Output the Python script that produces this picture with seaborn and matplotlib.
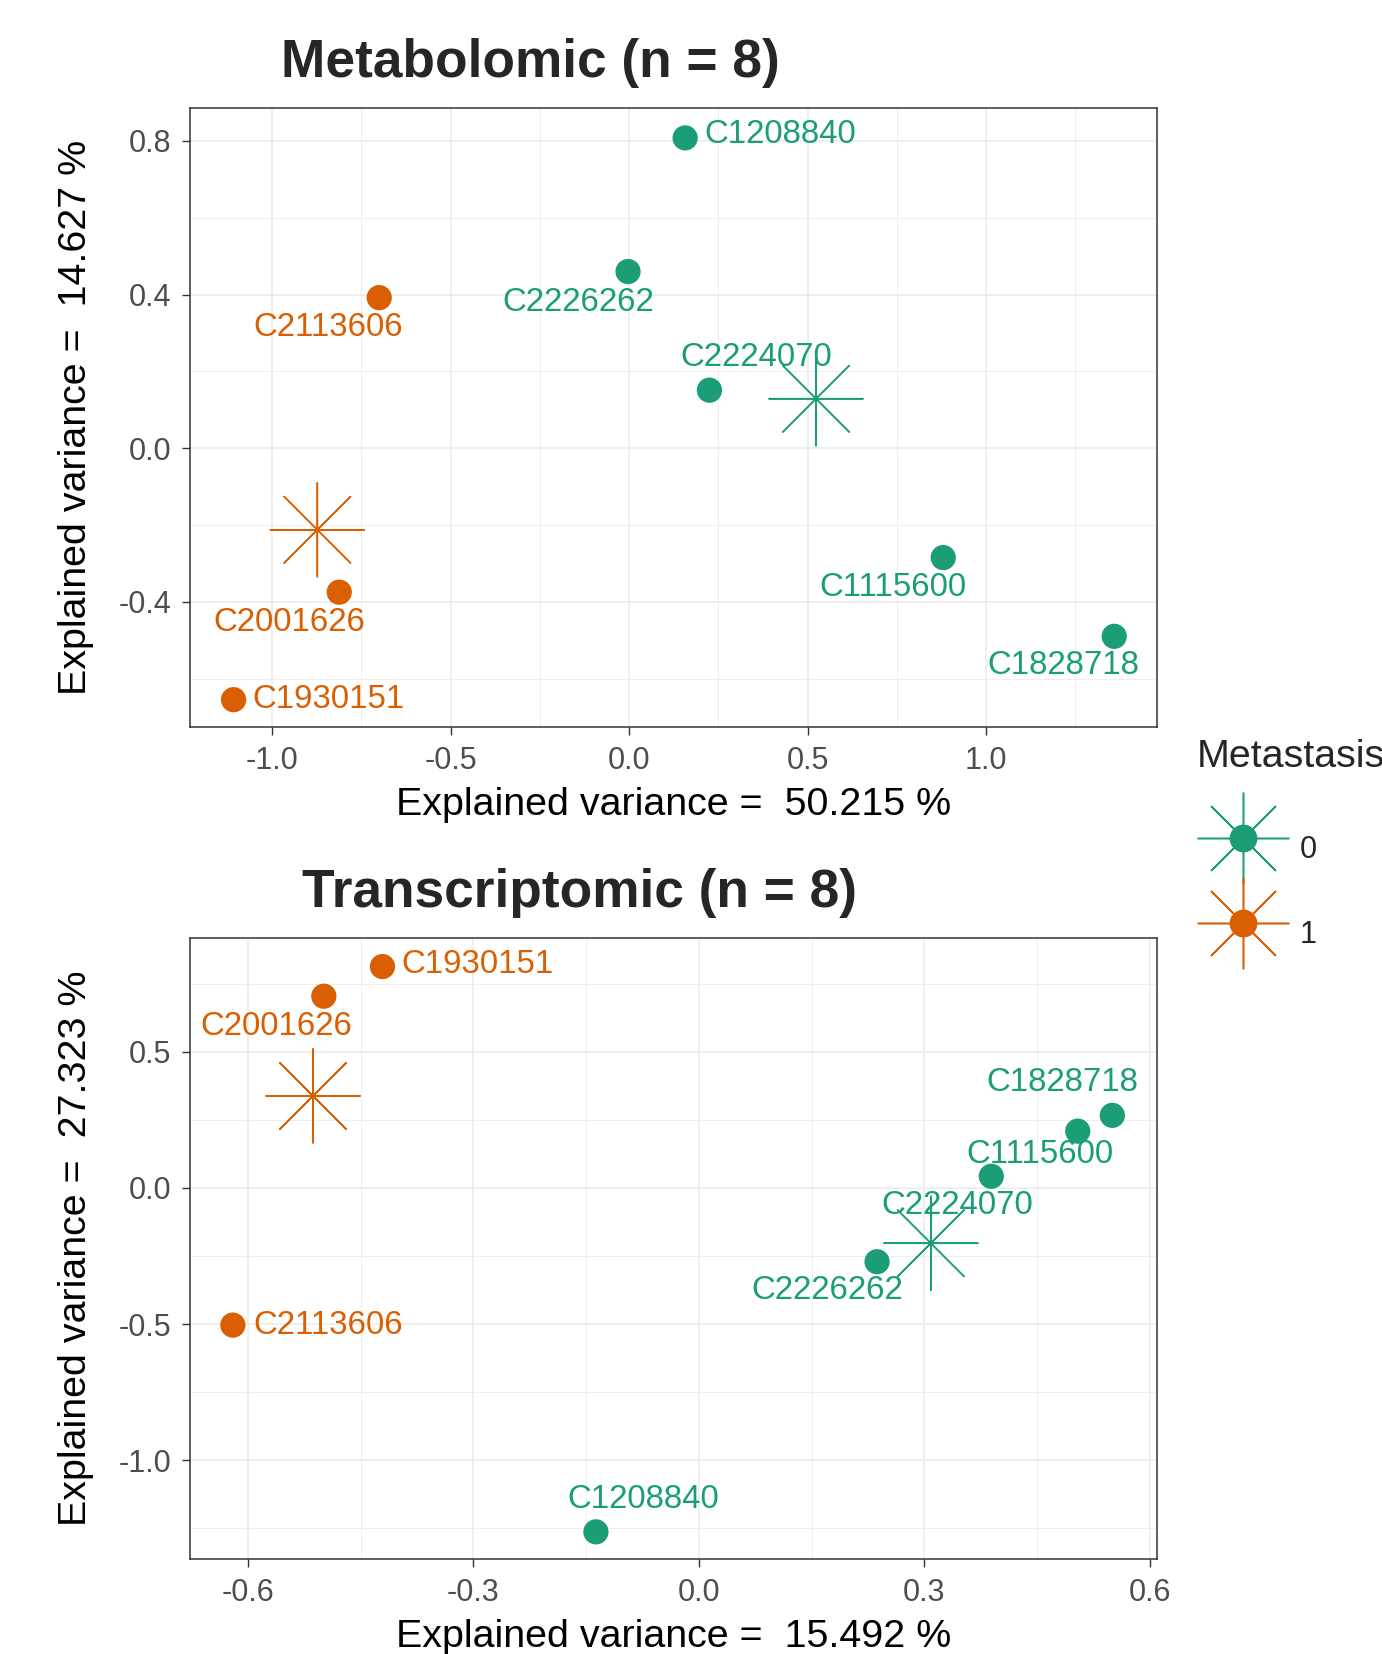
import numpy as np
import pandas as pd
import matplotlib
matplotlib.use('Agg')
import matplotlib.pyplot as plt
from matplotlib.lines import Line2D
import seaborn as sns

# sample ids and group (Metastasis)
samples = ['C1208840', 'C2226262', 'C2224070', 'C1115600', 'C1828718',
           'C2113606', 'C2001626', 'C1930151']
metastasis = ['0', '0', '0', '0', '0', '1', '1', '1']

# metabolomic scores
metab_x = [0.157, -0.003, 0.225, 0.880, 1.359, -0.700, -0.812, -1.108]
metab_y = [0.808, 0.460, 0.151, -0.285, -0.490, 0.392, -0.375, -0.655]

# transcriptomic scores
trans_x = [-0.137, 0.237, 0.389, 0.504, 0.550, -0.620, -0.499, -0.421]
trans_y = [-1.264, -0.271, 0.043, 0.209, 0.267, -0.504, 0.705, 0.814]

titles = ['Metabolomic (n = 8)', 'Transcriptomic (n = 8)']
xlabels = ['Explained variance =  50.215 %', 'Explained variance =  15.492 %']
ylabels = ['Explained variance =  14.627 %', 'Explained variance =  27.323 %']

# label offsets (px in the reference)
metab_off = [(90, 3), (-47, -29), (44, 31), (-48, -28), (-48, -28),
             (-48, -28), (-47, -29), (90, 0)]
trans_off = [(45, 31), (-47, -27), (-32, -28), (-36, -22), (-47, 31),
             (90, 0), (-45, -29), (90, 2)]

palette = {'0': '#1B9E77', '1': '#D95F02'}

sns.set_theme(style='white')
plt.rcParams['font.family'] = ['Liberation Sans', 'DejaVu Sans']

fig = plt.figure(figsize=(13.82, 16.54), dpi=100)
ax1 = fig.add_axes([0.1375, 0.5605, 0.700, 0.374])
ax2 = fig.add_axes([0.1375, 0.0574, 0.700, 0.3755])

px2pt = 1.055 * 72 / 100
star = (8, 2, 0)

panels = [
    (ax1, metab_x, metab_y, metab_off, (-1.23, 1.48), (-0.726, 0.885),
     [-1.0, -0.5, 0.0, 0.5, 1.0], [-0.4, 0.0, 0.4, 0.8], 0.25, 0.2),
    (ax2, trans_x, trans_y, trans_off, (-0.677, 0.61), (-1.364, 0.919),
     [-0.6, -0.3, 0.0, 0.3, 0.6], [-1.0, -0.5, 0.0, 0.5], 0.15, 0.25),
]

for i, (ax, xs, ys, offs, xl, yl, xt, yt, xm, ym) in enumerate(panels):
    df = pd.DataFrame({'sample': samples, 'group': metastasis, 'x': xs, 'y': ys})
    cent = df.groupby('group')[['x', 'y']].mean().reset_index()

    sns.scatterplot(data=cent, x='x', y='y', hue='group', palette=palette,
                    marker=star, s=4570, linewidth=1.1, legend=False, ax=ax,
                    zorder=3)
    sns.scatterplot(data=df, x='x', y='y', hue='group', palette=palette,
                    s=330, linewidth=0, legend=False, ax=ax, zorder=4)
    for (_, r), (dx, dy) in zip(df.iterrows(), offs):
        ax.annotate(r['sample'], (r['x'], r['y']), xytext=(dx * px2pt, dy * px2pt),
                    textcoords='offset points', ha='center', va='center',
                    color=palette[r['group']], fontsize=23.8, zorder=5)

    ax.set_xticks(xt)
    ax.set_yticks(yt)
    ax.set_xticklabels([f'{v:.1f}' for v in xt])
    ax.set_yticklabels([f'{v:.1f}' for v in yt])
    xminor = np.arange(xt[0] - xm, xt[-1] + xm + 1e-9, 2 * xm)
    yminor = np.arange(yt[0] - ym, yt[-1] + ym + 1e-9, 2 * ym)
    ax.set_xticks(xminor, minor=True)
    ax.set_yticks(yminor, minor=True)
    ax.set_xlim(*xl)
    ax.set_ylim(*yl)
    ax.grid(True, which='major', color='#EBEBEB', lw=1.1, zorder=0)
    ax.grid(True, which='minor', color='#EBEBEB', lw=0.6, zorder=0)
    ax.set_axisbelow(True)
    ax.tick_params(which='minor', length=0)
    ax.tick_params(which='major', direction='out', length=5.5, width=1,
                   color='#333333', labelcolor='#4D4D4D', labelsize=22, pad=8,
                   bottom=True, left=True)
    for sp in ax.spines.values():
        sp.set_color('#333333')
        sp.set_linewidth(1.1)

    ax.set_xlabel(xlabels[i], fontsize=28.4, color='black', labelpad=8)
    ax.set_ylabel(ylabels[i], fontsize=28.4, color='black', labelpad=18)

fig.text(530 / 1382, 1 - 63 / 1654, titles[0], ha='center', va='center',
         fontsize=38.3, fontweight='bold')
fig.text(580 / 1382, 1 - 893 / 1654, titles[1], ha='center', va='center',
         fontsize=38.3, fontweight='bold')

fig.text(1197 / 1382, 1 - 757 / 1654, 'Metastasis', ha='left', va='center',
         fontsize=28.4)
handles = []
for g in ['0', '1']:
    handles.append((Line2D([], [], ls='none', marker=star, ms=66, mew=1.1,
                           color=palette[g]),
                    Line2D([], [], ls='none', marker='o', ms=19,
                           color=palette[g])))
leg = fig.legend(handles, ['0', '1'], loc='upper left',
                 bbox_to_anchor=(1197 / 1382, 1 - 818 / 1654), frameon=False,
                 fontsize=22, borderpad=0, borderaxespad=0,
                 handlelength=3.0, handleheight=2.7, labelspacing=0.8,
                 handletextpad=0.35)

fig.savefig('out.png', dpi=100)
